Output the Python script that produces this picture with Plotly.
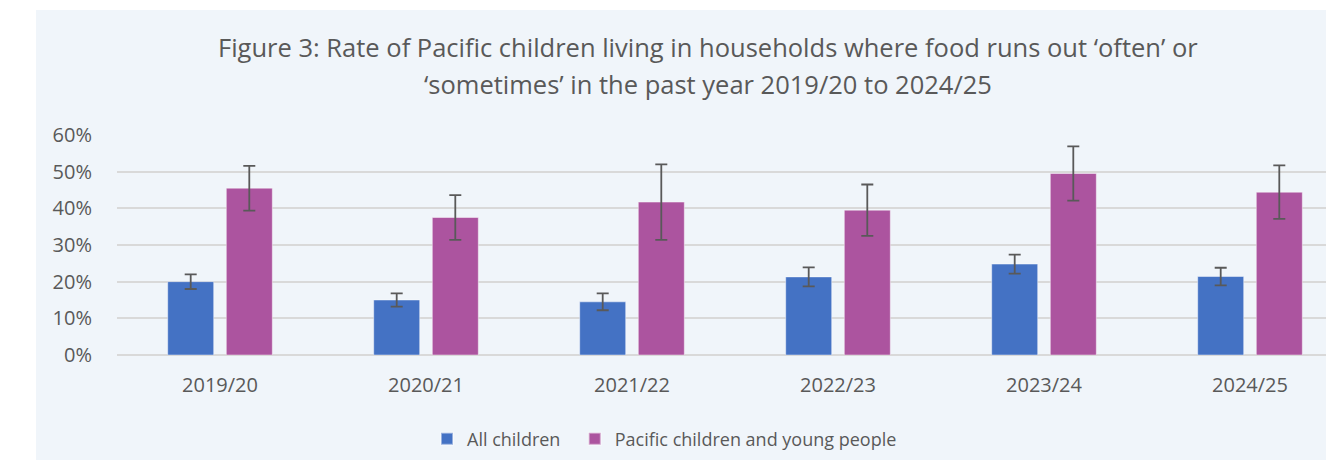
import plotly.graph_objects as go

years = ["2019/20", "2020/21", "2021/22", "2022/23", "2023/24", "2024/25"]
all_children = [0.200, 0.150, 0.145, 0.213, 0.248, 0.214]
all_children_err = [0.020, 0.018, 0.023, 0.026, 0.026, 0.024]
pacific = [0.455, 0.375, 0.417, 0.395, 0.495, 0.444]
pacific_err = [0.061, 0.061, 0.103, 0.070, 0.074, 0.073]

series_names = ["All children", "Pacific children and young people"]
title_line1 = "Figure 3: Rate of Pacific children living in households where food runs out \u2018often\u2019 or"
title_line2 = "\u2018sometimes\u2019 in the past year 2019/20 to 2024/25"

FONT = "Open Sans"
GREY = "#595959"
PANEL = "#F0F5FA"

W, H = 1326, 460
ML, MR = 117, 0
MT = 135
MB = H - 355
PW, PH = W - ML - MR, H - MT - MB


def px_x(sx):
    return (sx - ML) / PW


def px_y(sy):
    return (H - MB - sy) / PH


fig = go.Figure()
fig.add_trace(go.Bar(
    x=years, y=all_children, name=series_names[0] + "\u00a0\u00a0",
    marker=dict(color="#4472C4", line=dict(color="rgba(255,255,255,0.45)", width=1)),
    error_y=dict(type="data", array=all_children_err, color=GREY, thickness=1.8, width=6),
))
fig.add_trace(go.Bar(
    x=years, y=pacific, name=series_names[1],
    marker=dict(color="#AC549F", line=dict(color="rgba(255,255,255,0.45)", width=1)),
    error_y=dict(type="data", array=pacific_err, color=GREY, thickness=1.8, width=6),
))

fig.add_shape(type="rect", xref="paper", yref="paper",
              x0=px_x(36), x1=px_x(1340), y0=px_y(470), y1=px_y(10),
              fillcolor=PANEL, line=dict(width=0), layer="below")

fig.add_annotation(text=title_line1, xref="paper", yref="paper",
                   x=px_x(708), y=px_y(66), xanchor="center", yanchor="bottom",
                   showarrow=False, font=dict(family=FONT, size=25.5, color=GREY))
fig.add_annotation(text=title_line2, xref="paper", yref="paper",
                   x=px_x(708), y=px_y(103), xanchor="center", yanchor="bottom",
                   showarrow=False, font=dict(family=FONT, size=25.5, color=GREY))

fig.update_layout(
    width=W, height=H,
    margin=dict(l=ML, r=MR, t=MT, b=MB, pad=0),
    paper_bgcolor="white",
    plot_bgcolor="rgba(0,0,0,0)",
    barmode="group", bargap=0.431, bargroupgap=0.215,
    font=dict(family=FONT, color=GREY, size=20),
    showlegend=True,
    legend=dict(orientation="h", x=px_x(427), xanchor="left", y=px_y(439), yanchor="middle",
                font=dict(family=FONT, size=18, color=GREY), bgcolor="rgba(0,0,0,0)",
                itemsizing="constant", traceorder="normal"),
    xaxis=dict(range=[-0.5, -0.5 + PW / 206.0], showgrid=False, showline=False, zeroline=False,
               ticks="outside", ticklen=12, tickcolor="rgba(0,0,0,0)",
               tickfont=dict(family=FONT, size=20, color=GREY)),
    yaxis=dict(range=[0, 0.6], dtick=0.1, tickformat=".0%", showgrid=True,
               gridcolor="#D9D9D9", gridwidth=1.5, zeroline=True, zerolinecolor="#D9D9D9",
               zerolinewidth=1.5, showline=False,
               ticks="outside", ticklen=20, tickcolor="rgba(0,0,0,0)",
               tickfont=dict(family=FONT, size=20, color=GREY)),
)

fig.write_html("out.html", config={"displayModeBar": False},
               post_script="document.body.style.margin='0';")
